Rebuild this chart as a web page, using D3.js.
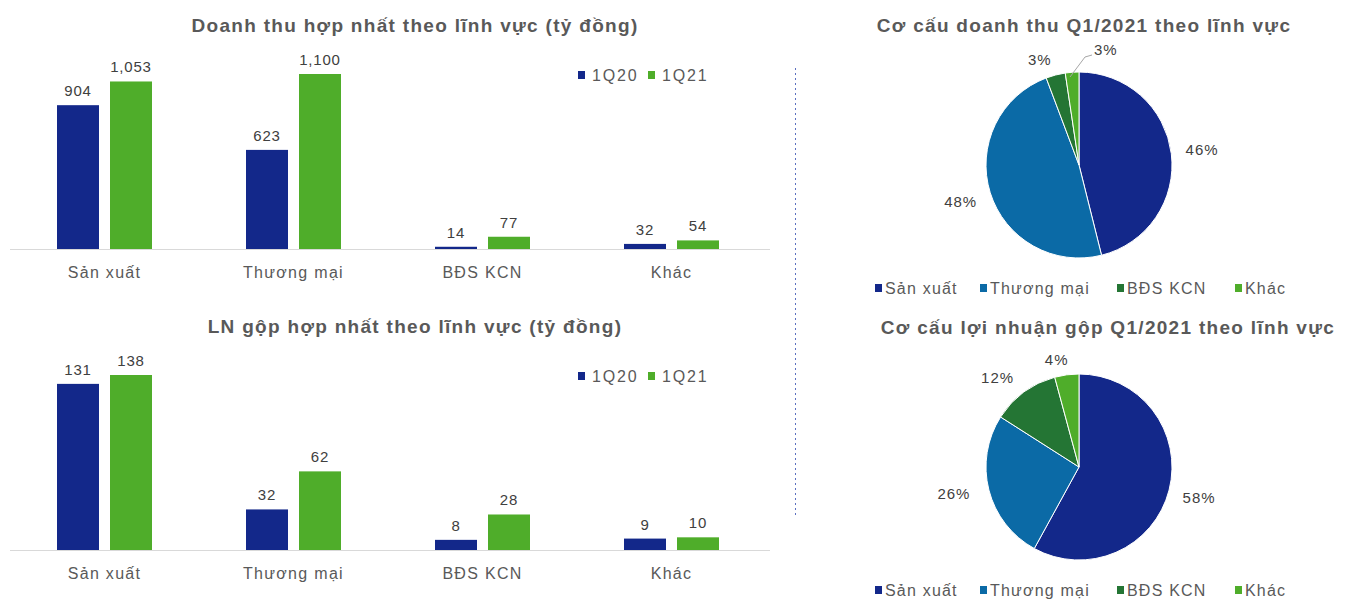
<!DOCTYPE html>
<html>
<head>
<meta charset="utf-8">
<script src="https://cdn.jsdelivr.net/npm/d3@7"></script>
<style>
body { margin:0; background:#fff; }
text { font-family:"Liberation Sans", Arial, sans-serif; }
</style>
</head>
<body>
<div id="chart"></div>
<script>
var categories = ["Sản xuất", "Thương mại", "BĐS KCN", "Khác"];
var seriesNames = ["1Q20", "1Q21"];
var revenue1Q20 = [904, 623, 14, 32];
var revenue1Q21 = [1053, 1100, 77, 54];
var profit1Q20 = [131, 32, 8, 9];
var profit1Q21 = [138, 62, 28, 10];
var revenueShareLabels = ["46%", "48%", "3%", "3%"];
var profitShareLabels = ["58%", "26%", "12%", "4%"];

var seriesColors = ["#13288a", "#4fad2a"];
var sliceColors = ["#13288a", "#0b6aa6", "#247534", "#4fad2a"];
var fmt = d3.format(",");

var svg = d3.select("#chart").append("svg")
	.attr("width", 1359)
	.attr("height", 606);

function drawBars(top, title, s1, s2, yMax) {
	var g = svg.append("g").attr("transform", "translate(0," + top + ")");
	var baseY = 249;

	g.append("text")
		.attr("x", 415).attr("y", 32)
		.attr("text-anchor", "middle")
		.style("font-size", "19px").style("font-weight", "bold")
		.style("letter-spacing", "1.3px")
		.style("fill", "#595959")
		.text(title);

	var x = d3.scaleBand().domain(categories).range([10, 766]);
	var xs = d3.scaleBand().domain(seriesNames).range([0, 95]).paddingInner(0.2075);
	var y = d3.scaleLinear().domain([0, yMax]).range([baseY, 74]);
	var off = (x.bandwidth() - 95) / 2;

	g.append("line")
		.attr("x1", 10).attr("x2", 770)
		.attr("y1", baseY + 0.5).attr("y2", baseY + 0.5)
		.style("stroke", "#d9d9d9");

	var data = [s1, s2];
	data.forEach(function(series, si) {
		var grp = g.append("g");
		grp.selectAll("rect").data(series).enter().append("rect")
			.attr("x", function(d, i) { return x(categories[i]) + off + xs(seriesNames[si]); })
			.attr("y", function(d) { return y(d); })
			.attr("width", xs.bandwidth())
			.attr("height", function(d) { return baseY - y(d); })
			.attr("fill", seriesColors[si]);
		grp.selectAll("text").data(series).enter().append("text")
			.attr("x", function(d, i) { return x(categories[i]) + off + xs(seriesNames[si]) + xs.bandwidth() / 2; })
			.attr("y", function(d) { return y(d) - 9; })
			.attr("text-anchor", "middle")
			.style("font-size", "15px").style("letter-spacing", "0.8px")
			.style("fill", "#404040")
			.text(function(d) { return fmt(d); });
	});

	g.selectAll(".cat").data(categories).enter().append("text")
		.attr("x", function(d) { return x(d) + x.bandwidth() / 2; })
		.attr("y", baseY + 29)
		.attr("text-anchor", "middle")
		.style("font-size", "16px").style("letter-spacing", "1.3px")
		.style("fill", "#595959")
		.text(function(d) { return d; });

	var lg = g.append("g").attr("transform", "translate(578,75)");
	seriesNames.forEach(function(s, i) {
		lg.append("rect").attr("x", i * 70).attr("y", -4).attr("width", 7).attr("height", 8).attr("fill", seriesColors[i]);
		lg.append("text").attr("x", i * 70 + 14).attr("y", 6)
			.style("font-size", "16px").style("letter-spacing", "1.8px")
			.style("fill", "#595959").text(s);
	});
}

function drawPie(top, title, titleX, values, labels, nudges) {
	var g = svg.append("g").attr("transform", "translate(0," + top + ")");
	var cx = 1079, cy = 165, r = 93;

	g.append("text")
		.attr("x", titleX).attr("y", 32)
		.attr("text-anchor", "middle")
		.style("font-size", "19px").style("font-weight", "bold")
		.style("letter-spacing", "1.3px")
		.style("fill", "#595959")
		.text(title);

	var pie = d3.pie().sort(null)(values);
	var arc = d3.arc().innerRadius(0).outerRadius(r);
	var labelArc = d3.arc().innerRadius(124).outerRadius(124);

	var pg = g.append("g").attr("transform", "translate(" + cx + "," + cy + ")");
	pg.selectAll("path").data(pie).enter().append("path")
		.attr("d", arc)
		.attr("fill", function(d, i) { return sliceColors[i]; })
		.style("stroke", "#fff").style("stroke-width", 1);

	pg.selectAll(".lbl").data(pie).enter().append("text")
		.attr("x", function(d, i) { return labelArc.centroid(d)[0] + nudges[i][0]; })
		.attr("y", function(d, i) { return labelArc.centroid(d)[1] + nudges[i][1] + 5; })
		.attr("text-anchor", "middle")
		.style("font-size", "15px").style("letter-spacing", "1px")
		.style("fill", "#404040")
		.text(function(d, i) { return labels[i]; });

	var lg = g.append("g").attr("transform", "translate(875,288)");
	var offs = [0, 105, 242, 360];
	categories.forEach(function(c, i) {
		lg.append("rect").attr("x", offs[i]).attr("y", -4).attr("width", 7).attr("height", 8).attr("fill", sliceColors[i]);
		lg.append("text").attr("x", offs[i] + 10).attr("y", 6)
			.style("font-size", "16px").style("letter-spacing", "1.2px")
			.style("fill", "#595959").text(c);
	});
	return pg;
}

drawBars(0, "Doanh thu hợp nhất theo lĩnh vực (tỷ đồng)", revenue1Q20, revenue1Q21, 1100);
drawBars(301, "LN gộp hợp nhất theo lĩnh vực (tỷ đồng)", profit1Q20, profit1Q21, 138);

var p1 = drawPie(0, "Cơ cấu doanh thu Q1/2021 theo lĩnh vực", 1084, revenue1Q21, revenueShareLabels,
	[[0, 0], [0, 0], [-8, 15], [36, 9]]);
// leader line for the small "Khác" slice
p1.append("polyline")
	.attr("points", "-9,-88 6,-108 13,-110")
	.style("fill", "none").style("stroke", "#a6a6a6");

drawPie(302, "Cơ cấu lợi nhuận gộp Q1/2021 theo lĩnh vực", 1108, profit1Q21, profitShareLabels,
	[[0, 0], [-5, -4], [-8, 11], [-6, 16]]);

svg.append("line")
	.attr("x1", 795.5).attr("x2", 795.5)
	.attr("y1", 68).attr("y2", 515)
	.style("stroke", "#5b6fc0").style("stroke-width", 1)
	.style("stroke-dasharray", "2,3");
</script>
</body>
</html>
